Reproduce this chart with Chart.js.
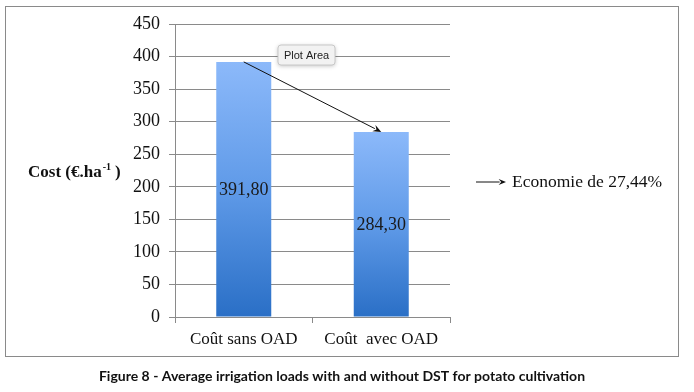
<!DOCTYPE html>
<html>
<head>
<meta charset="utf-8">
<script src="https://cdn.jsdelivr.net/npm/chart.js@4"></script>
<style>
  html, body { margin: 0; padding: 0; background: #fff; }
  #wrap { position: relative; width: 694px; height: 392px; }
</style>
</head>
<body>
<div id="wrap"><canvas id="chart" width="694" height="392"></canvas></div>
<script>
  const categories = ['Coût sans OAD', 'Coût  avec OAD'];
  const costs = [391.8, 284.3];
  const costLabels = ['391,80', '284,30'];
  const yTicks = [0, 50, 100, 150, 200, 250, 300, 350, 400, 450];
  const axisTitle = 'Cost (€.ha';
  const savingText = 'Economie de 27,44%';
  const caption = 'Figure 8 - Average irrigation loads with and without DST for potato cultivation';

  const serif = '"Liberation Serif", "DejaVu Serif", serif';

  function arrow(ctx, x1, y1, x2, y2, head) {
    const a = Math.atan2(y2 - y1, x2 - x1);
    ctx.beginPath();
    ctx.moveTo(x1, y1);
    ctx.lineTo(x2 - Math.cos(a) * head * 0.8, y2 - Math.sin(a) * head * 0.8);
    ctx.stroke();
    ctx.beginPath();
    ctx.moveTo(x2, y2);
    ctx.lineTo(x2 - head * Math.cos(a - 0.4), y2 - head * Math.sin(a - 0.4));
    ctx.lineTo(x2 - head * 0.6 * Math.cos(a), y2 - head * 0.6 * Math.sin(a));
    ctx.lineTo(x2 - head * Math.cos(a + 0.4), y2 - head * Math.sin(a + 0.4));
    ctx.closePath();
    ctx.fill();
  }

  const decor = {
    id: 'decor',
    beforeDraw(chart) {
      const ctx = chart.ctx;
      ctx.save();
      ctx.fillStyle = '#fff';
      ctx.fillRect(0, 0, chart.width, chart.height);
      ctx.strokeStyle = '#8a8a8a';
      ctx.lineWidth = 1;
      ctx.strokeRect(5.5, 6.5, 673, 350);
      ctx.restore();
    },
    afterDatasetsDraw(chart) {
      const ctx = chart.ctx;
      const bars = chart.getDatasetMeta(0).data;
      ctx.save();
      // value labels in the middle of each bar
      ctx.font = '18px ' + serif;
      ctx.fillStyle = '#1a1a1a';
      ctx.textAlign = 'center';
      ctx.textBaseline = 'middle';
      bars.forEach((b, i) => ctx.fillText(costLabels[i], b.x, (b.y + b.base) / 2 + 1));

      // arrow between bar tops
      ctx.strokeStyle = '#111';
      ctx.fillStyle = '#111';
      ctx.lineWidth = 1;
      arrow(ctx, bars[0].x, bars[0].y, bars[1].x, bars[1].y, 9);

      // "Plot Area" tag
      const tx = 278, ty = 45, tw = 57, th = 20;
      ctx.shadowColor = 'rgba(0,0,0,0.25)';
      ctx.shadowBlur = 4;
      ctx.shadowOffsetY = 1;
      ctx.fillStyle = '#f2f2f2';
      ctx.beginPath();
      ctx.roundRect(tx, ty, tw, th, 3);
      ctx.fill();
      ctx.shadowColor = 'transparent';
      ctx.strokeStyle = '#c8c8c8';
      ctx.stroke();
      ctx.fillStyle = '#222';
      ctx.font = '11px "Liberation Sans", Arial, sans-serif';
      ctx.fillText('Plot Area', tx + tw / 2, ty + th / 2 + 1);

      // y axis title with superscript
      ctx.fillStyle = '#111';
      ctx.textAlign = 'left';
      ctx.textBaseline = 'alphabetic';
      ctx.font = 'bold 17px ' + serif;
      let x = 28;
      ctx.fillText(axisTitle, x, 177);
      x += ctx.measureText(axisTitle).width;
      ctx.font = 'bold 10px ' + serif;
      ctx.fillText('-1', x + 1, 170);
      x += ctx.measureText('-1').width + 5;
      ctx.font = 'bold 17px ' + serif;
      ctx.fillText(')', x, 177);

      // saving note
      ctx.strokeStyle = '#111';
      ctx.fillStyle = '#111';
      arrow(ctx, 476, 182, 506, 182, 8);
      ctx.font = '17.5px ' + serif;
      ctx.textBaseline = 'middle';
      ctx.fillText(savingText, 512, 182);

      // caption
      ctx.font = 'bold 14px Lato, "Liberation Sans", sans-serif';
      ctx.textAlign = 'center';
      ctx.fillText(caption, 342, 376);
      ctx.restore();
    }
  };

  new Chart(document.getElementById('chart'), {
    type: 'bar',
    data: {
      labels: categories,
      datasets: [{
        data: costs,
        backgroundColor(c) {
          const area = c.chart.chartArea;
          if (!area) return '#5b95e6';
          const top = c.chart.scales.y.getPixelForValue(costs[c.dataIndex]);
          const g = c.chart.ctx.createLinearGradient(0, top, 0, area.bottom);
          g.addColorStop(0, '#8cb9fa');
          g.addColorStop(0.5, '#5f9ae8');
          g.addColorStop(1, '#2a6fc6');
          return g;
        },
        borderWidth: 0,
        categoryPercentage: 0.8,
        barPercentage: 0.5
      }]
    },
    options: {
      responsive: false,
      animation: false,
      devicePixelRatio: 1,
      layout: { padding: { left: 0, top: 24, right: 244, bottom: 0 } },
      plugins: { legend: { display: false }, tooltip: { enabled: false } },
      scales: {
        x: {
          grid: { display: true, drawOnChartArea: false, color: '#8a8a8a', tickLength: 6, offset: true },
          border: { color: '#8a8a8a' },
          ticks: { color: '#111', font: { family: serif, size: 17 }, padding: 6 },
          afterFit(s) { s.height = 75; }
        },
        y: {
          min: 0,
          max: 450,
          afterBuildTicks(s) { s.ticks = yTicks.map((v) => ({ value: v })); },
          grid: { color: '#8a8a8a', tickLength: 6 },
          border: { color: '#8a8a8a' },
          ticks: { color: '#111', font: { family: serif, size: 18 }, padding: 9 },
          afterFit(s) { s.width = 175; }
        }
      }
    },
    plugins: [decor]
  });
</script>
</body>
</html>
